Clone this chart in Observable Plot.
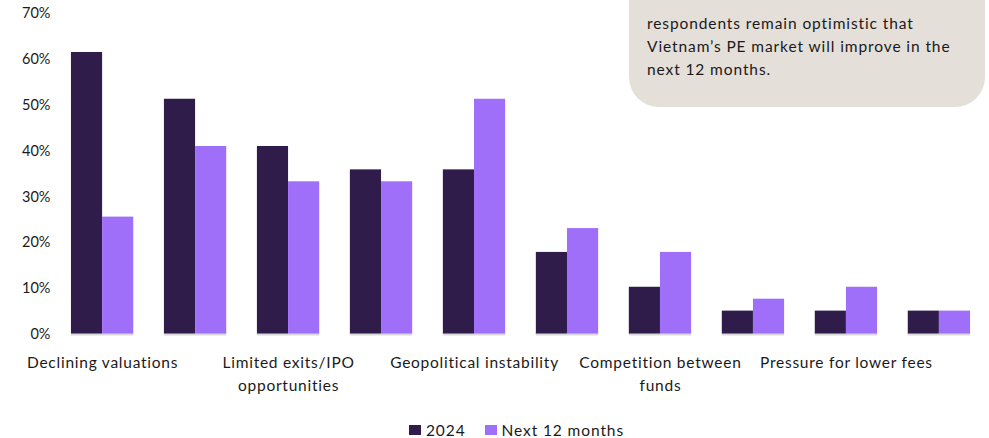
<!DOCTYPE html>
<html>
<head>
<meta charset="utf-8">
<script src="https://cdn.jsdelivr.net/npm/d3@7"></script>
<script src="https://cdn.jsdelivr.net/npm/@observablehq/plot@0.6"></script>
<style>
  html, body { margin: 0; padding: 0; background: #fff; }
  body { width: 989px; height: 438px; position: relative; overflow: hidden; font-family: Lato, "Open Sans", sans-serif; color: #1a1a1a; }
  #chart { position: absolute; left: 0; top: 0; }
  #chart g[aria-label="fx-axis tick label"] text { letter-spacing: 0.75px; }
  #note { position: absolute; left: 629px; top: -40px; width: 356px; height: 147px; background: #e5dfd9; border-radius: 0 0 30px 30px; box-sizing: border-box; padding: 52px 4px 0 18px; font-size: 15.5px; line-height: 23px; letter-spacing: 0.9px; white-space: nowrap; }
  #legend { position: absolute; left: 44px; top: 421px; width: 945px; height: 18px; display: flex; justify-content: center; align-items: center; gap: 19px; font-size: 15.5px; letter-spacing: 0.9px; }
  #legend .item { display: flex; align-items: center; gap: 5px; }
  #legend .sw { width: 12px; height: 10px; display: inline-block; }
</style>
</head>
<body>
<div id="chart"></div>
<div id="note">respondents remain optimistic that<br>Vietnam’s PE market will improve in the<br>next 12 months.</div>
<div id="legend"></div>
<script>
// Categories (every other one labelled in the source chart)
const categories = [
  "Declining valuations",
  "Macroeconomic slowdown",
  "Limited exits/IPO\nopportunities",
  "Regulatory uncertainty",
  "Geopolitical instability",
  "Fundraising difficulties",
  "Competition between\nfunds",
  "Talent shortage",
  "Pressure for lower fees",
  "Other"
];
const shownLabels = [true, false, true, false, true, false, true, false, true, false];
const series = ["2024", "Next 12 months"];
const values2024 = [61.5, 51.3, 41.0, 35.9, 35.9, 17.9, 10.3, 5.1, 5.1, 5.1];
const valuesNext = [25.6, 41.0, 33.3, 33.3, 51.3, 23.1, 17.9, 7.7, 10.3, 5.1];
const colors = ["#2f1c4b", "#a06ffa"];
const yTicks = [0, 10, 20, 30, 40, 50, 60, 70];

const data = [];
categories.forEach((c, i) => {
  data.push({category: c, series: series[0], value: values2024[i]});
  data.push({category: c, series: series[1], value: valuesNext[i]});
});

const plot = Plot.plot({
  width: 989,
  height: 418,
  marginLeft: 57,
  marginRight: 5,
  marginTop: 13,
  marginBottom: 84,
  style: {fontFamily: "Lato, 'Open Sans', sans-serif", fontSize: "15px", color: "#1a1a1a", background: "transparent"},
  fx: {domain: categories, paddingInner: 0.33, paddingOuter: 0.15, round: false, label: null},
  x: {domain: series, axis: null, padding: 0, round: false},
  y: {domain: [0, 70], label: null},
  color: {domain: series, range: colors},
  marks: [
    Plot.barY(data, {fx: "category", x: "series", y: "value", fill: "series"}),
    Plot.axisFx({
      anchor: "bottom",
      tickSize: 0,
      tickPadding: 17,
      fontSize: 15.5,
      lineHeight: 1.48,
      tickFormat: (d) => shownLabels[categories.indexOf(d)] ? d : "",
      label: null
    }),
    Plot.axisY({
      ticks: yTicks,
      tickSize: 0,
      tickPadding: 21,
      fontSize: 14.5,
      tickFormat: d => d + "%",
      label: null
    }),
    Plot.ruleY([0], {stroke: "#d9d9d9", strokeWidth: 2})
  ]
});
document.getElementById("chart").appendChild(plot);

const legend = document.getElementById("legend");
series.forEach((s, i) => {
  const item = document.createElement("span");
  item.className = "item";
  const sw = document.createElement("span");
  sw.className = "sw";
  sw.style.background = colors[i];
  const t = document.createElement("span");
  t.textContent = s;
  item.appendChild(sw);
  item.appendChild(t);
  legend.appendChild(item);
});
</script>
</body>
</html>
